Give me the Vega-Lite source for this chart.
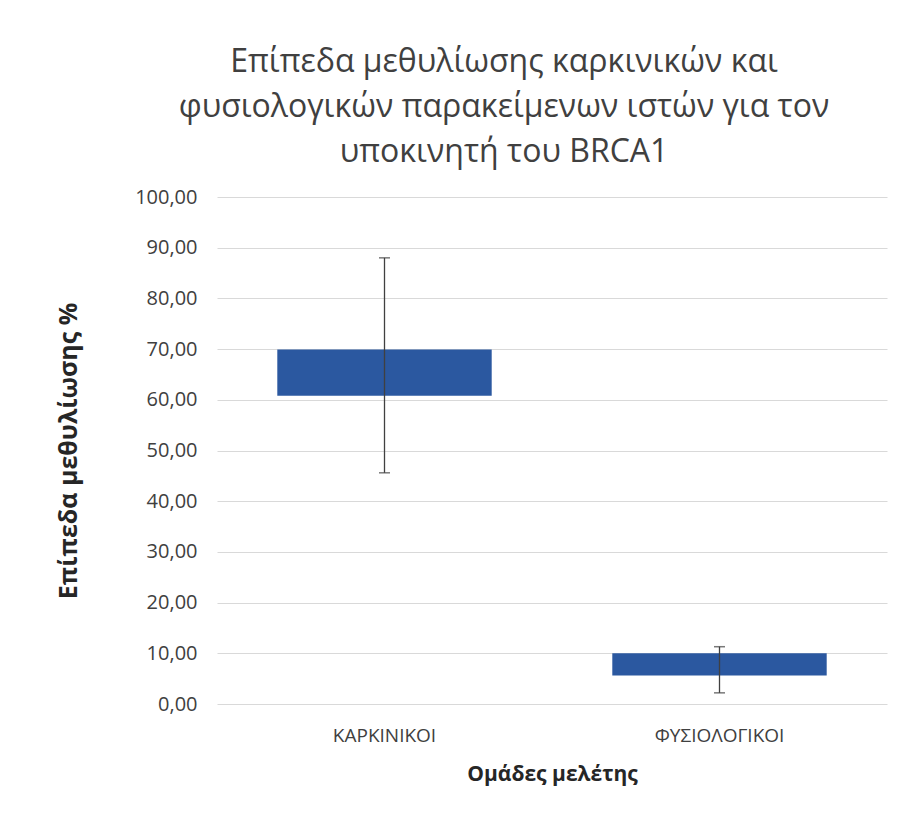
{
  "$schema": "https://vega.github.io/schema/vega-lite/v6.json",
  "autosize": "none",
  "width": 670,
  "height": 507,
  "padding": {"left": 217, "top": 197, "right": 16, "bottom": 113},
  "background": "white",
  "config": {
    "locale": {"number": {"decimal": ",", "thousands": ".", "grouping": [3], "currency": ["", " €"]}},
    "view": {"stroke": null},
    "font": "Open Sans"
  },
  "title": {
    "text": ["Επίπεδα μεθυλίωσης καρκινικών και", "φυσιολογικών παρακείμενων ιστών για τον", "υποκινητή του BRCA1"],
    "font": "Open Sans",
    "fontSize": 32,
    "fontWeight": "normal",
    "color": "#404040",
    "lineHeight": 45,
    "anchor": "middle",
    "frame": "group",
    "dx": -48,
    "offset": 18
  },
  "data": {
    "values": [
      {"group": "ΚΑΡΚΙΝΙΚΟΙ", "low": 60.8, "high": 69.9, "errLow": 45.6, "errHigh": 88.0},
      {"group": "ΦΥΣΙΟΛΟΓΙΚΟΙ", "low": 5.6, "high": 10.0, "errLow": 2.2, "errHigh": 11.3}
    ]
  },
  "encoding": {
    "x": {
      "field": "group",
      "type": "nominal",
      "sort": null,
      "scale": {"paddingInner": 0.36, "paddingOuter": 0.18},
      "axis": {
        "title": "Ομάδες μελέτης",
        "titleFont": "Open Sans",
        "titleFontSize": 21,
        "titleFontWeight": "bold",
        "titleColor": "#262626",
        "titlePadding": 18,
        "labelAngle": 0,
        "labelFont": "Open Sans",
        "labelFontSize": 19,
        "labelColor": "#404040",
        "labelPadding": 22,
        "ticks": false,
        "domain": false,
        "grid": false
      }
    }
  },
  "layer": [
    {
      "mark": {"type": "bar", "color": "#2B58A0"},
      "encoding": {
        "y": {
          "field": "low",
          "type": "quantitative",
          "scale": {"domain": [0, 100], "nice": false},
          "axis": {
            "title": "Επίπεδα μεθυλίωσης %",
            "titleFont": "Open Sans",
            "titleFontSize": 25,
            "titleFontWeight": "bold",
            "titleColor": "#262626",
            "titlePadding": 53,
            "values": [0, 10, 20, 30, 40, 50, 60, 70, 80, 90, 100],
            "format": ".2f",
            "labelFont": "Open Sans",
            "labelFontSize": 20,
            "labelColor": "#404040",
            "labelPadding": 20,
            "ticks": false,
            "domain": false,
            "grid": true,
            "gridColor": "#d9d9d9",
            "gridWidth": 1.2
          }
        },
        "y2": {"field": "high"}
      }
    },
    {
      "mark": {"type": "rule", "color": "#404040", "strokeWidth": 1.3},
      "encoding": {
        "y": {"field": "errLow", "type": "quantitative"},
        "y2": {"field": "errHigh"}
      }
    },
    {
      "mark": {"type": "tick", "color": "#404040", "size": 11, "thickness": 1.5},
      "encoding": {"y": {"field": "errLow", "type": "quantitative"}}
    },
    {
      "mark": {"type": "tick", "color": "#404040", "size": 11, "thickness": 1.5},
      "encoding": {"y": {"field": "errHigh", "type": "quantitative"}}
    }
  ]
}
